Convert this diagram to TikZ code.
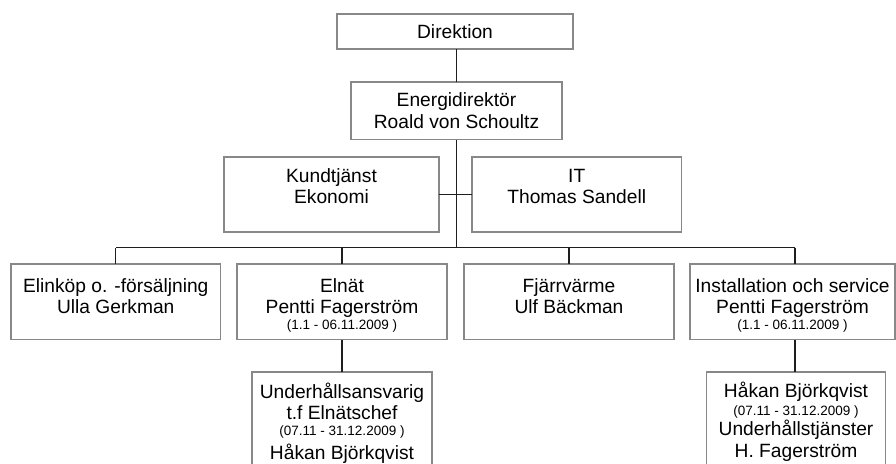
\documentclass[tikz,border=0pt]{standalone}
\usepackage{fontspec}
\setmainfont{Liberation Sans}
\definecolor{boxline}{RGB}{136,136,136}
\definecolor{conline}{RGB}{30,30,30}
\newcommand{\orgtext}[4]{\begin{minipage}[c][#2pt][t]{#1pt}\centering\fontsize{19.2}{21}\selectfont\rule{0pt}{#3pt}#4\end{minipage}}
\newcommand{\smalltxt}[1]{{\fontsize{13.5}{15}\selectfont #1}}
\tikzset{
  orgbox/.style={draw=boxline, line width=1.3pt, inner sep=0pt, outer sep=0pt, anchor=north west, fill=white},
  conn/.style={draw=conline, line width=1.3pt}
}
\begin{document}
\begin{tikzpicture}[x=1pt,y=-1pt]
\useasboundingbox (0,0) rectangle (896,463);
\clip (0,0) rectangle (896,463);
\fill[white] (0,0) rectangle (896,463);
% boxes
\node[orgbox] (dir) at (337,14) {\orgtext{236}{35}{24}{Direktion}};
\node[orgbox] (en) at (351,82) {\orgtext{211}{57.5}{24}{Energidirektör\\[1pt]Roald von Schoultz}};
\node[orgbox] (kund) at (224,157) {\orgtext{215}{75}{25}{Kundtjänst\\[0.5pt]Ekonomi}};
\node[orgbox] (it) at (472,157) {\orgtext{209.5}{75}{25}{IT\\[0.5pt]Thomas Sandell}};
\node[orgbox] (b1) at (11,264) {\orgtext{209.5}{75.5}{28}{Elinköp o. -försäljning\\Ulla Gerkman}};
\node[orgbox] (b2) at (237,264) {\orgtext{210}{75.5}{28}{Elnät\\Pentti Fagerström\\[-5pt]\smalltxt{(1.1 - 06.11.2009 )}}};
\node[orgbox] (b3) at (464,264) {\orgtext{210}{75.5}{28}{Fjärrvärme\\Ulf Bäckman}};
\node[orgbox] (b4) at (690,264) {\orgtext{205}{75.5}{28}{Installation och service\\Pentti Fagerström\\[-5pt]\smalltxt{(1.1 - 06.11.2009 )}}};
\node[orgbox] (s2) at (252,372) {\orgtext{180}{100}{26}{Underhållsansvarig\\t.f Elnätschef\\[-5pt]\smalltxt{(07.11 - 31.12.2009 )}\\[3pt]Håkan Björkqvist}};
\node[orgbox] (s4) at (706.5,372) {\orgtext{179}{100}{25}{Håkan Björkqvist\\[-2.5pt]\smalltxt{(07.11 - 31.12.2009 )}\\[-1.5pt]Underhållstjänster\\[1pt]H. Fagerström}};
% bus coordinates
\coordinate (busL) at (115.5,247.5);
\coordinate (busR) at (795,247.5);
% connectors
\draw[conn] (en.north) -- (en.north |- dir.south);
\draw[conn] (en.south) -- (en.south |- busL);
\draw[conn] (kund.east) -- (it.west);
\draw[conn] (busL) -- (busR);
\draw[conn] (b1.north) -- (b1.north |- busL);
\draw[conn] (b2.north) -- (b2.north |- busL);
\draw[conn] (b3.north) -- (b3.north |- busL);
\draw[conn] (busR) -- (busR |- b4.north);
\draw[conn] (b2.south) -- (s2.north);
\draw[conn] (busR |- b4.south) -- (busR |- s4.north);
\end{tikzpicture}
\end{document}
